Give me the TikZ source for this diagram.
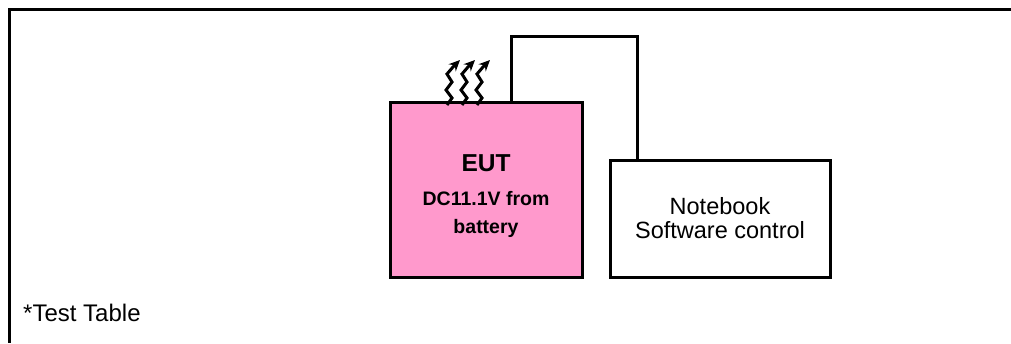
\documentclass[tikz,border=0pt]{standalone}
\usepackage{fontspec}
\setmainfont{Liberation Sans}
\usetikzlibrary{arrows.meta}
\definecolor{eutpink}{HTML}{FF99CC}
\begin{document}
\begin{tikzpicture}[x=1pt, y=-1pt,
		box/.style={draw, line width=3pt, inner sep=0pt},
		wire/.style={line width=3pt},
		heat/.style={line width=3pt, -{Stealth[length=11pt,width=10pt]}}]
		\useasboundingbox (0,0) rectangle (1011,343);
		\draw[line width=3.5pt] (1011,9.5) -- (9.5,9.5) -- (9.5,343);
		\node[box, fill=eutpink, minimum width=192pt, minimum height=175pt] (eut) at (486,189.5) {};
		\node[align=center, inner sep=0pt, font=\bfseries\fontsize{19.5}{28.3}\selectfont] (euttext) at (486,196.2)
			{{\fontsize{24.5}{28.3}\selectfont EUT}\\[5.7pt] DC11.1V from\\battery};
		\node[box, minimum width=220pt, minimum height=117pt, align=center, font=\fontsize{23.5}{24}\selectfont] (nb) at (720,218.5)
			{Notebook\\Software control};
		\draw[wire] ([xshift=25pt]eut.north) -- ++(0,-64) -| ([xshift=-82.5pt]nb.north);
		\foreach \hx in {447,462,477}
			\draw[heat] (\hx,105) -- ++(5,-7) -- ++(-6,-8) -- ++(6,-8) -- ++(-5,-8) -- ++(6,-7) -- ++(7,-7);
		\node[anchor=base west, inner sep=0pt, font=\fontsize{24}{28}\selectfont] (table) at (23,321.7) {*Test Table};
	\end{tikzpicture}
\end{document}
